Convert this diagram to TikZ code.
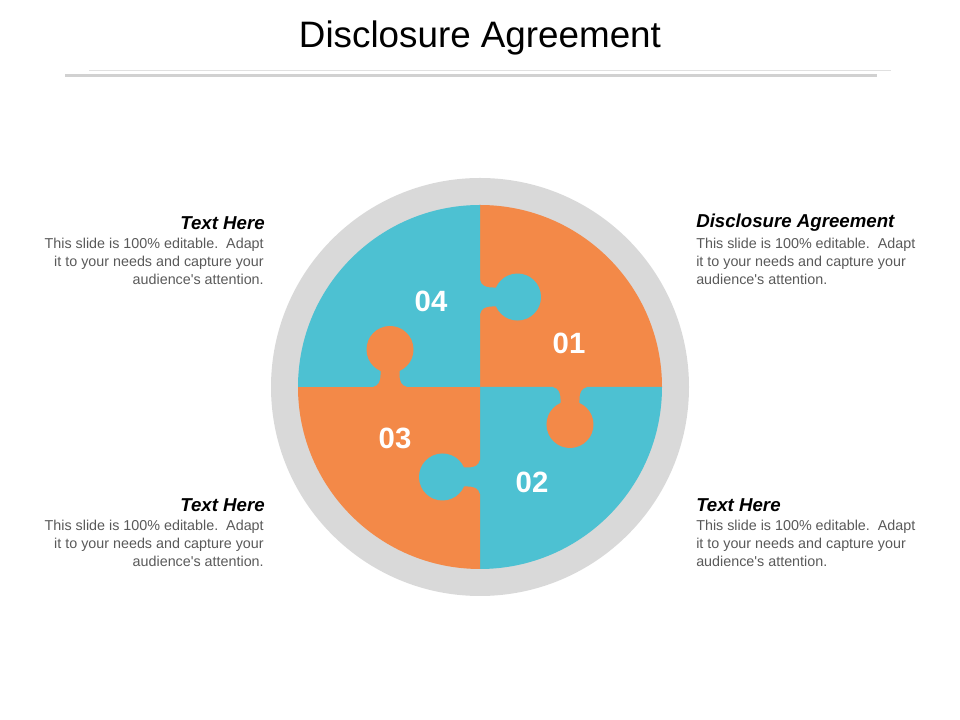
\documentclass[tikz,border=0pt]{standalone}
\usepackage{fontspec}
\setmainfont{Liberation Sans}
\definecolor{porange}{HTML}{F38948}
\definecolor{pteal}{HTML}{4DC1D2}
\definecolor{pgray}{HTML}{D9D9D9}
\definecolor{bodygray}{HTML}{595959}
\tikzset{
  num/.style={text=white,font=\fontsize{22}{24}\selectfont\bfseries,inner sep=0pt},
  head/.style={text=black,font=\fontsize{14}{16}\selectfont\bfseries\itshape,inner sep=0pt},
  body/.style={text=bodygray,font=\fontsize{10.75}{13.5}\selectfont,inner sep=0pt},
}
\newcommand{\knobpath}{(-1,-17) -- (0,-17) .. controls (1.5,-11) and (6,-9.5) .. (12,-9.5) -- (16,-9.5)
  arc[start angle=-156.2,end angle=156.2,radius=23.5]
  -- (12,9.5) .. controls (6,9.5) and (1.5,11) .. (0,17) -- (-1,17) -- cycle}
\newcommand{\bodytext}{This slide is 100\% editable.\ \ Adapt\\it to your needs and capture your\\audience\textquotesingle s attention.}
\begin{document}
\begin{tikzpicture}[x=0.75pt,y=0.75pt]
\useasboundingbox (0,0) rectangle (960,720);
% title
\node[font=\fontsize{27.6}{30}\selectfont,text=black,inner sep=0pt] (title) at (480,682) {Disclosure Agreement};
\draw[color=black!12,line width=0.75pt] (89,649) coordinate (l1a) -- (891,649) coordinate (l1b);
\draw[color=black!18,line width=1.6pt] (65,644.5) coordinate (l2a) -- (877,644.5) coordinate (l2b);
% ring
\fill[pgray] (480,333) circle[radius=209];
% quadrants
\fill[porange] (480,333) -- ++(0,182) arc[start angle=90,end angle=0,radius=182] -- cycle;
\fill[pteal] (480,333) -- ++(182,0) arc[start angle=0,end angle=-90,radius=182] -- cycle;
\fill[porange] (480,333) -- ++(0,-182) arc[start angle=-90,end angle=-180,radius=182] -- cycle;
\fill[pteal] (480,333) -- ++(-182,0) arc[start angle=180,end angle=90,radius=182] -- cycle;
% knobs
\begin{scope}[shift={(480,423)}]
  \fill[pteal] \knobpath;
\end{scope}
\begin{scope}[shift={(570,333)},rotate=-90]
  \fill[porange] \knobpath;
\end{scope}
\begin{scope}[shift={(480,243)},rotate=180]
  \fill[pteal] \knobpath;
\end{scope}
\begin{scope}[shift={(390,333)},rotate=90]
  \fill[porange] \knobpath;
\end{scope}
% numbers
\node[num] (n04) at (431,419) {04};
\node[num] (n01) at (569,377) {01};
\node[num] (n03) at (395,282) {03};
\node[num] (n02) at (532,238) {02};
% left top
\node[head,anchor=east] (h1) at (265,497) {Text Here};
\node[body,anchor=north east,align=right] (b1) at (264,482) {\bodytext};
% left bottom
\node[head,anchor=east] (h3) at (265,215) {Text Here};
\node[body,anchor=north east,align=right] (b3) at (264,200) {\bodytext};
% right top
\node[head,anchor=west] (h2) at (696,497) {Disclosure Agreement};
\node[body,anchor=north west,align=left] (b2) at (696,482) {\bodytext};
% right bottom
\node[head,anchor=west] (h4) at (696,215) {Text Here};
\node[body,anchor=north west,align=left] (b4) at (696,200) {\bodytext};
\end{tikzpicture}
\end{document}
